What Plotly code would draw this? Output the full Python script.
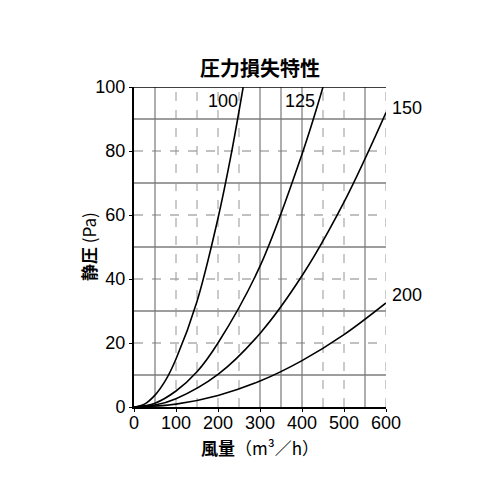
import plotly.graph_objects as go

# curves: air volume (m3/h) -> static pressure (Pa)
q_100 = [0, 25, 50, 75, 100, 150, 200, 230, 260]
p_100 = [0, 0.9, 3.7, 8.3, 15, 33, 59, 78, 100]
q_125 = [0, 50, 100, 150, 200, 300, 400, 450]
p_125 = [0, 1.2, 5, 11, 20, 44, 79, 100]
q_150 = [0, 50, 100, 200, 300, 400, 500, 600]
p_150 = [0, 0.6, 2.6, 10.2, 23, 41, 64, 92]
q_200 = [0, 100, 200, 300, 400, 500, 600]
p_200 = [0, 0.9, 3.6, 8.1, 14.5, 22.6, 32.5]

curve_names = ["100", "125", "150", "200"]
label_x = [212, 395, 650, 650]
label_y = [95.5, 95.5, 93.5, 35]

x_ticks = [0, 100, 200, 300, 400, 500, 600]
y_ticks = [0, 20, 40, 60, 80, 100]
x_max, y_max = 600, 100

# grid (the scan mixes solid and dashed lines)
h_solid = [10, 30, 50, 70, 90]
h_dash = [20, 40, 60, 80]
v_solid = [50, 300, 350, 400, 550]
v_dash = [100, 150, 200, 250, 450, 500, 600]

fig = go.Figure()

shapes = []
for v in h_solid:
    shapes.append(dict(type="line", xref="x", yref="y", x0=0, x1=x_max, y0=v, y1=v,
                       line=dict(color="rgb(60,60,60)", width=1.2), layer="below"))
for v in h_dash:
    shapes.append(dict(type="line", xref="x", yref="y", x0=0, x1=x_max, y0=v, y1=v,
                       line=dict(color="rgb(130,130,130)", width=1, dash="dash"), layer="below"))
for v in v_solid:
    shapes.append(dict(type="line", xref="x", yref="y", x0=v, x1=v, y0=0, y1=y_max,
                       line=dict(color="rgb(120,120,120)", width=1.2), layer="below"))
for v in v_dash:
    shapes.append(dict(type="line", xref="x", yref="y", x0=v, x1=v, y0=0, y1=y_max,
                       line=dict(color="rgb(150,150,150)", width=1, dash="dash"), layer="below"))
# top frame line
shapes.append(dict(type="line", xref="x", yref="y", x0=0, x1=x_max, y0=y_max, y1=y_max,
                   line=dict(color="black", width=1.5)))

for q, p in [(q_100, p_100), (q_125, p_125), (q_150, p_150), (q_200, p_200)]:
    fig.add_trace(go.Scatter(x=q, y=p, mode="lines",
                             line=dict(color="black", width=1.6, shape="spline"),
                             showlegend=False))

annotations = []
# curve labels, in paper units so the ones right of the plot still show
for name, lx, ly in zip(curve_names, label_x, label_y):
    annotations.append(dict(text=name, x=lx / x_max, y=ly / y_max, xref="paper", yref="paper",
                            showarrow=False, xanchor="center", yanchor="middle",
                            font=dict(size=18, color="black", family="Liberation Sans")))
annotations.append(dict(text="<b>圧力損失特性</b>", x=0.5, y=1, xref="paper", yref="paper",
                        showarrow=False, xanchor="center", yanchor="middle", yshift=20,
                        font=dict(size=20, color="black", family="Noto Sans CJK JP")))
annotations.append(dict(text="<b>風量</b>（m³／h）", x=0.5, y=0, xref="paper", yref="paper",
                        showarrow=False, xanchor="center", yanchor="middle", yshift=-40,
                        font=dict(size=17, color="black", family="Noto Sans CJK JP")))
annotations.append(dict(text="<b>静圧</b> (Pa)", x=0, y=0.5, xref="paper", yref="paper",
                        showarrow=False, xanchor="center", yanchor="middle", xshift=-46,
                        textangle=-90,
                        font=dict(size=17, color="black", family="Noto Sans CJK JP")))

fig.update_layout(
    width=500, height=500,
    margin=dict(l=126, r=122, t=79, b=101),
    paper_bgcolor="white", plot_bgcolor="white",
    shapes=shapes, annotations=annotations,
    font=dict(family="Liberation Sans", size=18, color="black"),
    xaxis=dict(range=[0, x_max], tickvals=x_ticks, showgrid=False, zeroline=False,
               showline=True, linecolor="black", linewidth=2,
               ticks="outside", ticklen=3, tickcolor="black", ticklabelstandoff=-5),
    yaxis=dict(range=[0, y_max], tickvals=y_ticks, showgrid=False, zeroline=False,
               showline=True, linecolor="black", linewidth=2,
               ticks="outside", ticklen=3, tickcolor="black"),
)

fig.write_html("out.html")
